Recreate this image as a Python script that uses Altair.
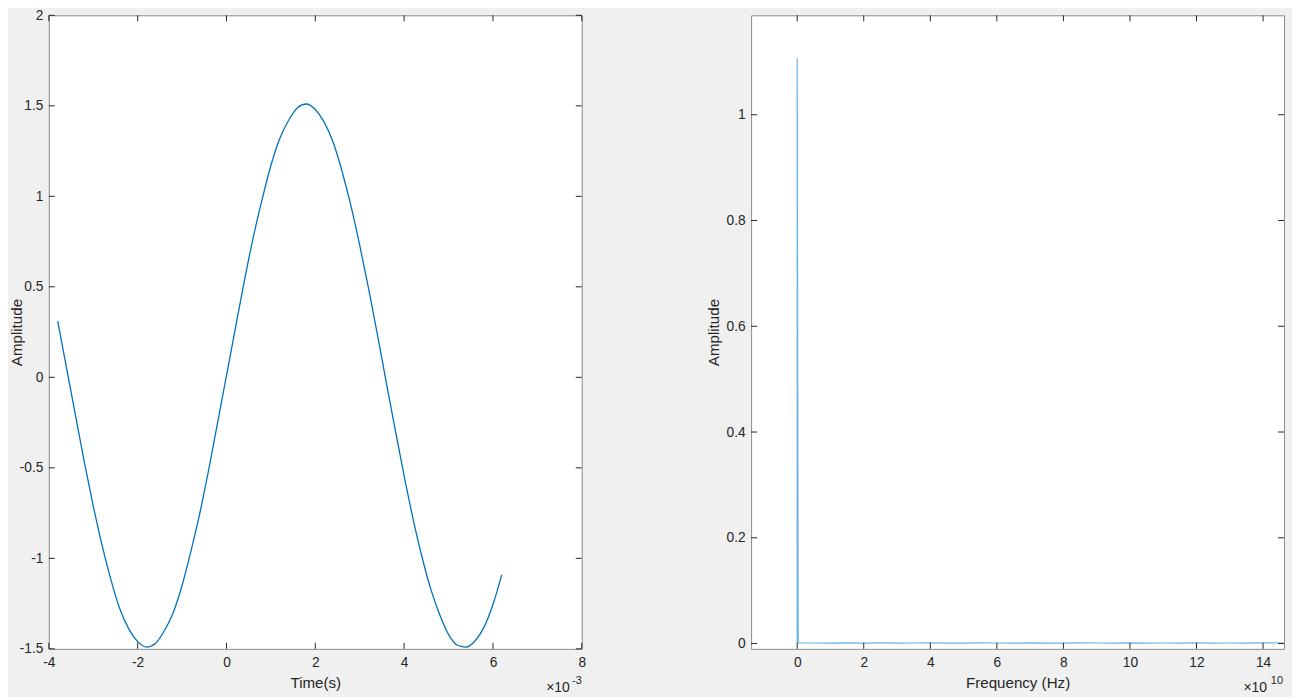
import altair as alt
import pandas as pd

# ---- data ----
time_ms = [-3.8, -3.6, -3.4, -3.2, -3.0, -2.8, -2.6, -2.4, -2.2, -2.0,
           -1.8, -1.6, -1.4, -1.2, -1.0, -0.8, -0.6, -0.4, -0.2, 0.0,
           0.2, 0.4, 0.6, 0.8, 1.0, 1.2, 1.4, 1.6, 1.8, 2.0,
           2.2, 2.4, 2.6, 2.8, 3.0, 3.2, 3.4, 3.6, 3.8, 4.0,
           4.2, 4.4, 4.6, 4.8, 5.0, 5.2, 5.4, 5.6, 5.8, 6.0, 6.2]
amp_time = [0.31, 0.05, -0.21, -0.47, -0.71, -0.93, -1.12, -1.28, -1.39, -1.46,
            -1.49, -1.47, -1.40, -1.30, -1.15, -0.96, -0.75, -0.51, -0.25, 0.01,
            0.27, 0.53, 0.77, 0.98, 1.17, 1.32, 1.42, 1.49, 1.51, 1.48,
            1.41, 1.30, 1.14, 0.95, 0.73, 0.49, 0.235, -0.03, -0.29, -0.545,
            -0.78, -0.99, -1.17, -1.31, -1.42, -1.48, -1.49, -1.455, -1.38, -1.255, -1.09]

freq_e10hz = [0.0, 0.0, 0.03, 0.5, 1.0, 1.5, 2.0, 2.5, 3.0, 3.5, 4.0, 4.5, 5.0,
              5.5, 6.0, 6.5, 7.0, 7.5, 8.0, 8.5, 9.0, 9.5, 10.0, 10.5, 11.0,
              11.5, 12.0, 12.5, 13.0, 13.5, 14.0, 14.5, 14.63]
amp_freq = [0.0, 1.107, 0.0012, 0.0011, 0.0009, 0.0013, 0.0010, 0.0012, 0.0008,
            0.0011, 0.0014, 0.0009, 0.0010, 0.0012, 0.0011, 0.0009, 0.0013, 0.0010,
            0.0008, 0.0012, 0.0011, 0.0010, 0.0013, 0.0009, 0.0011, 0.0010, 0.0012,
            0.0009, 0.0011, 0.0010, 0.0012, 0.0011, 0.0010]

left_xticks = [-4, -2, 0, 2, 4, 6, 8]
left_yticks = [-1.5, -1, -0.5, 0, 0.5, 1, 1.5, 2]
right_xticks = [0, 2, 4, 6, 8, 10, 12, 14]
right_yticks = [0, 0.2, 0.4, 0.6, 0.8, 1]

left_xtitle = "Time(s)"
right_xtitle = "Frequency (Hz)"
ytitle = "Amplitude"
left_exp = ["×10", "-3"]
right_exp = ["×10", "10"]

W, H = 535, 636
TICK = 6
FONT = "Liberation Sans"
TXT = "#262626"
LABEL_SIZE = 13.8
TITLE_SIZE = 15.2


def panel(df, xfield, yfield, xdom, ydom, xticks, yticks, xtitle, ytpad,
          color, swidth, interp, exp):
    xaxis = alt.Axis(values=xticks, labelExpr="'' + datum.value", title=xtitle,
                     domain=False, ticks=False, grid=False, labelPadding=7,
                     titlePadding=6, labelFlush=False)
    yaxis = alt.Axis(values=yticks, labelExpr="'' + datum.value", title=ytitle,
                     domain=False, ticks=False, grid=False, labelPadding=6,
                     titlePadding=ytpad)
    xs = alt.Scale(domain=xdom, nice=False, zero=False)
    ys = alt.Scale(domain=ydom, nice=False, zero=False)

    def X(f):
        return alt.X(f, type="quantitative", scale=xs, axis=xaxis)

    def Y(f):
        return alt.Y(f, type="quantitative", scale=ys, axis=yaxis)

    line = alt.Chart(df).mark_line(color=color, strokeWidth=swidth,
                                   interpolate=interp).encode(
        x=X(xfield), y=Y(yfield), order="idx:Q")

    dxt = pd.DataFrame({"tick": xticks})
    dyt = pd.DataFrame({"tick": yticks})
    tick_style = dict(color=TXT, strokeWidth=1)
    xb = alt.Chart(dxt).mark_rule(**tick_style).encode(
        x=X("tick"), y=alt.value(H), y2=alt.value(H - TICK))
    xt = alt.Chart(dxt).mark_rule(**tick_style).encode(
        x=X("tick"), y=alt.value(0), y2=alt.value(TICK))
    yl = alt.Chart(dyt).mark_rule(**tick_style).encode(
        y=Y("tick"), x=alt.value(0), x2=alt.value(TICK))
    yr = alt.Chart(dyt).mark_rule(**tick_style).encode(
        y=Y("tick"), x=alt.value(W - TICK), x2=alt.value(W))

    base_txt = alt.Chart(pd.DataFrame({"t": [exp[0]]})).mark_text(
        font=FONT, fontSize=14, color=TXT, align="right", baseline="alphabetic"
    ).encode(text="t:N", x=alt.value(exp[2]), y=alt.value(H + 43))
    sup_txt = alt.Chart(pd.DataFrame({"t": [exp[1]]})).mark_text(
        font=FONT, fontSize=11, color=TXT, align="right", baseline="alphabetic"
    ).encode(text="t:N", x=alt.value(exp[3]), y=alt.value(H + 35))

    return alt.layer(line, xb, xt, yl, yr, base_txt, sup_txt).properties(
        width=W, height=H)


df_left = pd.DataFrame({"t": time_ms, "a": amp_time,
                        "idx": list(range(len(time_ms)))})
df_right = pd.DataFrame({"f": freq_e10hz, "a": amp_freq,
                         "idx": list(range(len(freq_e10hz)))})

left = panel(df_left, "t", "a", [-4, 8], [-1.5, 2], left_xticks, left_yticks,
             left_xtitle, -5, "#0072BD", 1.3, "monotone", left_exp + [W - 12, W])
right = panel(df_right, "f", "a", [-1.385, 14.63], [-0.01, 1.188], right_xticks,
              right_yticks, right_xtitle, 5, "#6db1e2", 1.2, "linear",
              right_exp + [W - 17, W - 1])

chart = alt.hconcat(left, right, spacing=170, bounds="flush").properties(
    padding={"left": 0, "top": -2, "right": 5, "bottom": 0},
    background="#f0f0f0",
).configure_view(
    fill="white", stroke="#8c8c8c", strokeWidth=1
).configure_axis(
    labelFont=FONT, labelFontSize=LABEL_SIZE, labelColor=TXT,
    titleFont=FONT, titleFontSize=TITLE_SIZE, titleColor=TXT, titleFontWeight="normal"
)

chart.save("out.html", embed_options={"renderer": "svg", "actions": False})
